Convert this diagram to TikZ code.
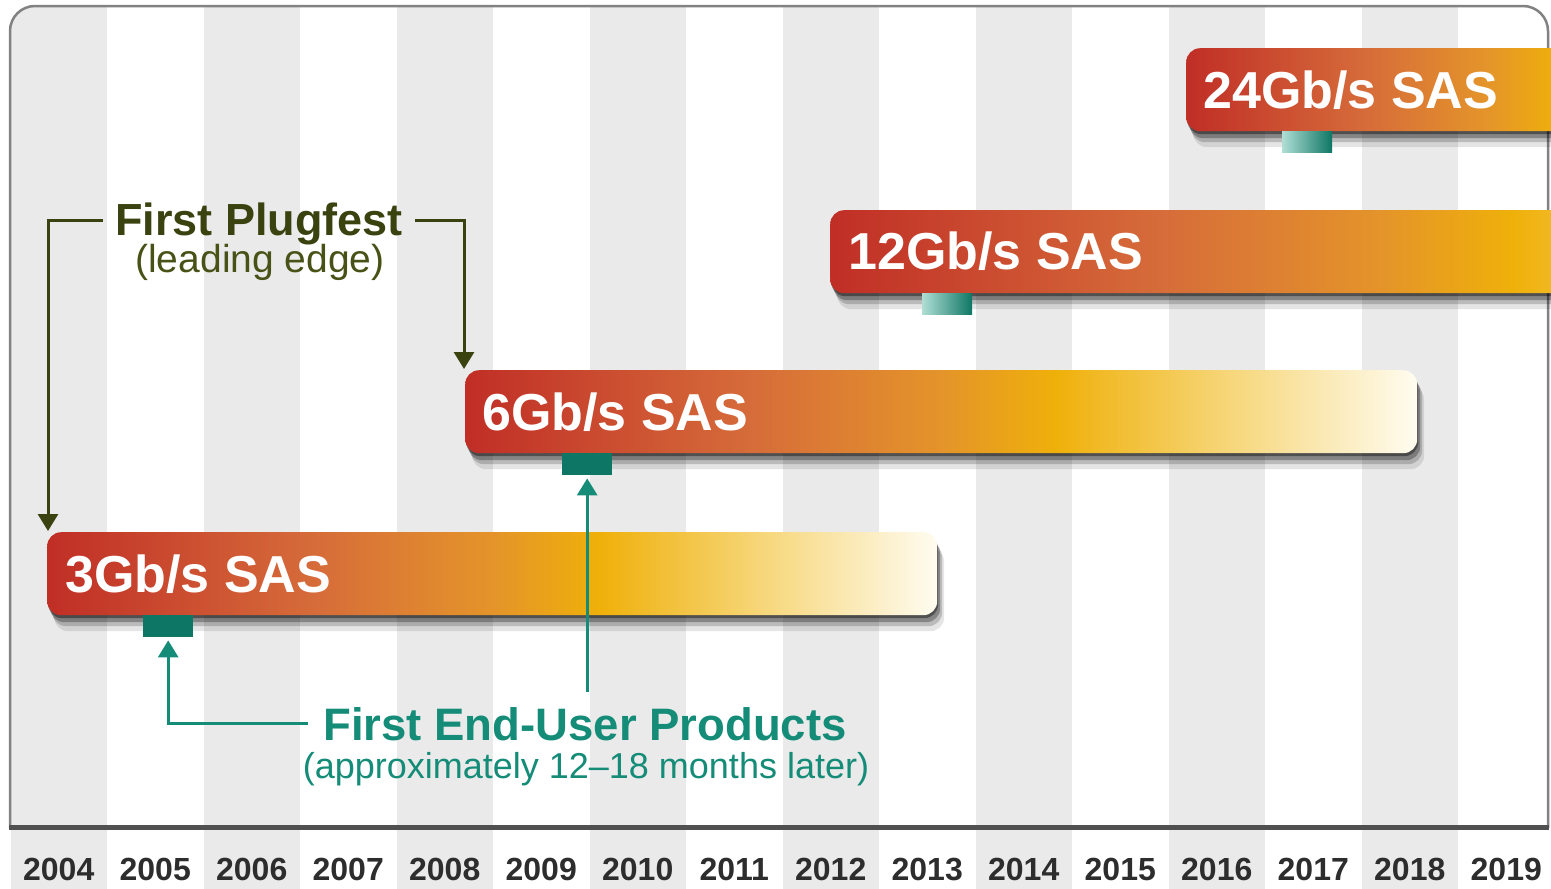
\documentclass[tikz,border=0pt]{standalone}
\usepackage{fontspec}
\setmainfont{Liberation Sans}
\usetikzlibrary{arrows.meta}
\definecolor{stripegrey}{RGB}{234,234,234}
\definecolor{framegrey}{RGB}{130,130,130}
\definecolor{axisgrey}{RGB}{80,80,80}
\definecolor{yeartext}{RGB}{45,45,45}
\definecolor{barA}{RGB}{192,46,38}
\definecolor{barB}{RGB}{214,108,58}
\definecolor{barC}{RGB}{228,148,42}
\definecolor{barD}{RGB}{239,176,10}
\definecolor{barE}{RGB}{246,214,120}
\definecolor{barF}{RGB}{255,252,240}
\definecolor{olive}{RGB}{58,66,16}
\definecolor{olivelight}{RGB}{72,82,22}
\definecolor{tealtext}{RGB}{20,140,120}
\definecolor{tealmark}{RGB}{14,118,100}
\definecolor{tealfade}{RGB}{175,222,212}
\pgfdeclarehorizontalshading{barshade}{100bp}{color(0bp)=(barA); color(25bp)=(barA); color(40bp)=(barB); color(50bp)=(barC); color(56bp)=(barD); color(65bp)=(barE); color(75bp)=(barF); color(100bp)=(barF)}
\begin{document}
\begin{tikzpicture}[x=1pt,y=-1pt,
  bar/.style={shape=rectangle, rounded corners=14pt, inner sep=0pt, anchor=north west,
    minimum height=83pt, shading=barshade,
    preaction={fill=black, opacity=0.10, transform canvas={shift={(7,16)}}},
    preaction={fill=black, opacity=0.18, transform canvas={shift={(5,11)}}},
    preaction={fill=black, opacity=0.28, transform canvas={shift={(3,7)}}},
    preaction={fill=black, opacity=0.40, transform canvas={shift={(1,3)}}}},
  barlabel/.style={anchor=base west, inner sep=0pt, text=white,
    font=\fontsize{52}{60}\selectfont\bfseries},
  marker/.style={shape=rectangle, inner sep=0pt, anchor=north west,
    minimum width=50pt, minimum height=22pt, fill=tealmark},
  fademarker/.style={shape=rectangle, inner sep=0pt, anchor=north west,
    minimum width=50pt, minimum height=21pt, left color=tealfade, right color=tealmark},
  yearlabel/.style={anchor=base, inner sep=0pt, text=yeartext,
    font=\fontsize{32}{36}\selectfont\bfseries},
  plugline/.style={draw=olive, line width=3pt, -{Triangle[width=20pt,length=17pt]}},
  tealline/.style={draw=tealtext, line width=3pt, -{Triangle[width=20pt,length=17pt]}},
  pfmain/.style={anchor=base, inner sep=12pt, text=olive,
    font=\fontsize{45}{50}\selectfont\bfseries},
  pfsubst/.style={anchor=base, inner sep=0pt, text=olivelight,
    font=\fontsize{39}{43}\selectfont},
  eumain/.style={anchor=base, inner sep=15pt, text=tealtext,
    font=\fontsize{45.5}{50}\selectfont\bfseries},
  eusubst/.style={anchor=base, inner sep=0pt, text=tealtext,
    font=\fontsize{36}{40}\selectfont}
]
\useasboundingbox (0,0) rectangle (1551,889);
\clip (0,0) rectangle (1551,889);
\fill[white] (0,0) rectangle (1551,889);

% column stripes
\begin{scope}
  \clip[rounded corners=25pt] (10,6) rectangle (1548,950);
  \foreach \i in {0,2,...,14}
    \fill[stripegrey] ({10.5+96.5*\i},0) rectangle ({10.5+96.5*(\i+1)},889);
\end{scope}

% frame
\draw[framegrey, line width=2.5pt, rounded corners=25pt] (10,828) -- (10,6) -- (1548,6) -- (1548,828);
\draw[axisgrey, line width=5pt] (9,827) -- (1549,827);

% year labels
\foreach \y [count=\i from 0] in {2004,2005,2006,2007,2008,2009,2010,2011,2012,2013,2014,2015,2016,2017,2018,2019}
  \node[yearlabel] (yr\y) at ({10.5+96.5*(\i+0.5)},880) {\y};

% bars
\node[bar, minimum width=890pt] (b3) at (47,532) {};
\node[bar, minimum width=952pt] (b6) at (465,370) {};
\node[bar, minimum width=1100pt] (b12) at (830,210) {};
\node[bar, minimum width=600pt] (b24) at (1186,48) {};

\node[barlabel] (l3) at (65,592) {3Gb/s SAS};
\node[barlabel] (l6) at (482,430) {6Gb/s SAS};
\node[barlabel] (l12) at (848,269) {12Gb/s SAS};
\node[barlabel] (l24) at (1203,108) {24Gb/s SAS};

% markers (first end-user products)
\node[marker] (m3) at (143,615) {};
\node[marker] (m6) at (562,453) {};
\node[fademarker] (m12) at (922,293) {};
\node[fademarker] (m24) at (1282,131) {};

% first plugfest
\node[pfmain] (pf) at (259,235) {First Plugfest};
\node[pfsubst] (pfsub) at (260,272) {(leading edge)};
\draw[plugline] ([yshift=3pt]pf.west) -| ([xshift=1pt,yshift=1pt]b3.north west);
\draw[plugline] ([yshift=3pt]pf.east) -| ([xshift=-1pt,yshift=1pt]b6.north west);

% first end-user products
\node[eumain] (eu) at (585,740) {First End-User Products};
\node[eusubst] (eusub) at (586,778) {(approximately 12–18 months later)};
\draw[tealline, shorten >=3pt] (eu.west) -| (m3.south);
\draw[tealline, shorten >=3pt] (eu.north -| m6.south) -- (m6.south);
\end{tikzpicture}
\end{document}
